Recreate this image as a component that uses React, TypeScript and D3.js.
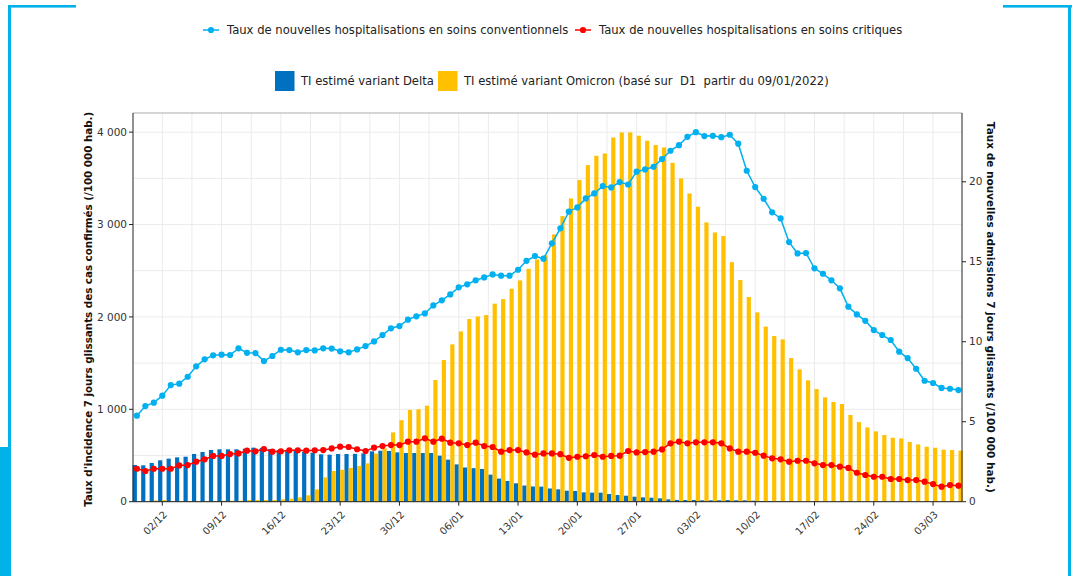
import React, { useEffect, useRef } from 'react';
import * as d3 from 'd3';

// daily series, 29/11/2021 -> 06/03/2022
const firstDay = '2021-11-29';
const lastDay = '2022-03-06';
const firstTick = '2021-12-02';

// TI estimé variant Delta (/100 000 hab.)
const deltaRate = [
  397, 394, 419, 448, 466, 480, 487, 516, 538, 560, 567, 567, 567, 574, 585, 581, 570, 560, 560, 549,
  541, 530, 513, 509, 516, 516, 518, 523, 545, 552, 549, 534, 527, 527, 527, 527, 498, 455, 404, 370,
  363, 354, 293, 250, 224, 199, 175, 165, 163, 143, 134, 119, 116, 101, 98, 98, 83, 72, 65, 54,
  47, 43, 36, 25, 18, 18, 18, 15, 15, 15, 18, 15, 15, 11, 8, 6, 5, 4, 2, 2,
  2, 2, 2, 2, 2, 2, 2, 2, 2, 2, 2, 2, 2, 2, 2, 2, 2, 2,
];

// TI estimé variant Omicron
const omicronRate = [
  2, 4, 14, 18, 8, 7, 7, 7, 8, 8, 11, 11, 11, 18, 18, 18, 18, 25, 32, 47,
  69, 133, 263, 332, 345, 366, 388, 415, 520, 577, 750, 882, 994, 1001, 1039, 1317, 1533, 1703, 1843, 1977,
  2005, 2020, 2143, 2193, 2305, 2395, 2521, 2622, 2666, 2893, 3091, 3282, 3481, 3643, 3744, 3769, 3942, 3997, 3997, 3961,
  3907, 3860, 3834, 3668, 3499, 3336, 3192, 3023, 2914, 2875, 2593, 2399, 2215, 2049, 1895, 1793, 1757, 1555, 1432, 1313,
  1219, 1129, 1079, 1057, 938, 862, 804, 761, 721, 692, 685, 646, 620, 595, 584, 563, 559, 552,
];

// nouvelles hospitalisations en soins conventionnels
const convRate = [
  5.38, 5.98, 6.19, 6.63, 7.29, 7.38, 7.81, 8.46, 8.9, 9.15, 9.19, 9.17, 9.59, 9.31, 9.29, 8.79, 9.11, 9.5, 9.48, 9.34,
  9.48, 9.46, 9.59, 9.57, 9.4, 9.34, 9.52, 9.73, 10.02, 10.42, 10.84, 10.98, 11.38, 11.59, 11.77, 12.27, 12.59, 12.96, 13.4, 13.59,
  13.84, 14.02, 14.21, 14.13, 14.13, 14.5, 15.06, 15.36, 15.19, 16.15, 17.09, 18.13, 18.4, 18.96, 19.27, 19.73, 19.65, 19.98, 19.83, 20.63,
  20.77, 20.94, 21.42, 21.94, 22.29, 22.81, 23.1, 22.86, 22.87, 22.79, 22.94, 22.38, 20.69, 19.67, 18.94, 18.09, 17.71, 16.23, 15.52, 15.54,
  14.59, 14.25, 13.84, 13.34, 12.19, 11.71, 11.31, 10.73, 10.42, 10.11, 9.38, 8.98, 8.31, 7.56, 7.42, 7.11, 7.06, 6.98,
];

// nouvelles hospitalisations en soins critiques
const critRate = [
  2.06, 1.92, 2.06, 2.06, 2.06, 2.27, 2.29, 2.5, 2.65, 2.86, 2.86, 2.98, 3.02, 3.19, 3.15, 3.29, 3.13, 3.15, 3.21, 3.21,
  3.19, 3.21, 3.23, 3.33, 3.44, 3.42, 3.28, 3.17, 3.38, 3.48, 3.54, 3.54, 3.75, 3.75, 3.96, 3.75, 3.94, 3.69, 3.65, 3.54,
  3.69, 3.48, 3.42, 3.13, 3.23, 3.23, 3.08, 2.94, 3.02, 3.02, 2.97, 2.74, 2.81, 2.84, 2.92, 2.81, 2.86, 2.88, 3.17, 3.08,
  3.1, 3.13, 3.27, 3.65, 3.75, 3.65, 3.71, 3.71, 3.71, 3.65, 3.33, 3.13, 3.13, 3.06, 2.88, 2.71, 2.65, 2.5, 2.56, 2.56,
  2.4, 2.29, 2.29, 2.19, 2.11, 1.81, 1.67, 1.56, 1.56, 1.42, 1.42, 1.35, 1.35, 1.25, 1.1, 0.94, 1.04, 1.0,
];

const lineLabels = [
  'Taux de nouvelles hospitalisations en soins conventionnels',
  'Taux de nouvelles hospitalisations en soins critiques',
];
const barLabels = [
  'TI estimé variant Delta',
  'TI estimé variant Omicron (basé sur  D1  partir du 09/01/2022)',
];
const leftTitle = "Taux d'incidence 7 jours glissants des cas confirmés (/100 000 hab.)";
const rightTitle = 'Taux de nouvelles admissions 7 jours glissants (/100 000 hab.)';
const leftTicks = [0, 1000, 2000, 3000, 4000];
const rightTicks = [0, 5, 10, 15, 20];

const FONT = 'DejaVu Sans';
const C_CONV = '#00B0F0';
const C_CRIT = '#FF0000';
const C_DELTA = '#0070C0';
const C_OMI = '#FFC000';
const C_FRAME = '#00B2E8';

const fr = d3.formatLocale({ decimal: ',', thousands: ' ', grouping: [3], currency: ['', ' €'] });

export default function App() {
  const svgRef = useRef<SVGSVGElement>(null);

  const left = 133, right = 962, top = 113, bottom = 501.7;

  useEffect(() => {
    const svg = d3.select(svgRef.current);
    svg.selectAll('*').remove();

    const start = d3.utcParse('%Y-%m-%d')(firstDay)!;
    const end = d3.utcParse('%Y-%m-%d')(lastDay)!;
    const t0 = d3.utcParse('%Y-%m-%d')(firstTick)!;
    const days = d3.utcDay.range(start, d3.utcDay.offset(end, 1));

    const x = d3
      .scaleUtc()
      .domain([d3.utcHour.offset(start, -11), d3.utcHour.offset(end, 10)])
      .range([left, right]);
    const yL = d3.scaleLinear().domain([0, 4207]).range([bottom, top]);
    const yR = d3.scaleLinear().domain([0, 24.3]).range([bottom, top]);
    const dayW = x(d3.utcDay.offset(start, 1)) - x(start);
    const bw = dayW / 2 - 0.05;

    // frame decoration
    const deco = svg.append('g').attr('fill', C_FRAME);
    deco.append('rect').attr('x', 8).attr('y', 5).attr('width', 68).attr('height', 2.6);
    deco.append('rect').attr('x', 8).attr('y', 5).attr('width', 3).attr('height', 571);
    deco.append('rect').attr('x', 0).attr('y', 447).attr('width', 11).attr('height', 129);
    deco.append('rect').attr('x', 1003).attr('y', 5).attr('width', 69).attr('height', 2.6);
    deco.append('rect').attr('x', 1068).attr('y', 5).attr('width', 3).attr('height', 571);

    // grid
    const grid = svg.append('g').attr('stroke', '#ebebeb').attr('stroke-width', 1);
    d3.range(0, 4201, 500).forEach((v) => {
      grid.append('line').attr('x1', left).attr('x2', right).attr('y1', yL(v)).attr('y2', yL(v));
    });
    const gridDates = d3.range(0, 27).map((k) => d3.utcHour.offset(t0, k * 84));
    gridDates.forEach((d) => {
      grid.append('line').attr('x1', x(d)).attr('x2', x(d)).attr('y1', top).attr('y2', bottom);
    });

    // bars
    svg
      .append('g')
      .selectAll('rect')
      .data(days)
      .join('rect')
      .attr('x', (d) => x(d) - bw)
      .attr('width', bw)
      .attr('y', (d, i) => yL(deltaRate[i]))
      .attr('height', (d, i) => bottom - yL(deltaRate[i]))
      .attr('fill', C_DELTA);
    svg
      .append('g')
      .selectAll('rect')
      .data(days)
      .join('rect')
      .attr('x', (d) => x(d))
      .attr('width', bw)
      .attr('y', (d, i) => yL(omicronRate[i]))
      .attr('height', (d, i) => bottom - yL(omicronRate[i]))
      .attr('fill', C_OMI);

    // lines
    const drawLine = (vals: number[], color: string) => {
      const g = svg.append('g');
      g.append('path')
        .datum(vals)
        .attr('fill', 'none')
        .attr('stroke', color)
        .attr('stroke-width', 1.5)
        .attr('d', d3.line<number>().x((v, i) => x(days[i])).y((v) => yR(v)));
      g.selectAll('circle')
        .data(vals)
        .join('circle')
        .attr('cx', (v, i) => x(days[i]))
        .attr('cy', (v) => yR(v))
        .attr('r', 3.1)
        .attr('fill', color);
    };
    drawLine(convRate, C_CONV);
    drawLine(critRate, C_CRIT);

    // spines
    const sp = svg.append('g');
    sp.append('line').attr('x1', left).attr('x2', right).attr('y1', top).attr('y2', top).attr('stroke', '#aaaaaa');
    sp.append('line').attr('x1', left).attr('x2', left).attr('y1', top).attr('y2', bottom).attr('stroke', '#222');
    sp.append('line').attr('x1', right).attr('x2', right).attr('y1', top).attr('y2', bottom).attr('stroke', '#222');
    sp.append('line').attr('x1', left).attr('x2', right).attr('y1', bottom).attr('y2', bottom).attr('stroke', '#222');

    // left axis
    const axL = svg.append('g').attr('font-family', FONT).attr('font-size', 10.5).attr('fill', '#333');
    leftTicks.forEach((v) => {
      axL.append('line').attr('x1', left - 4).attr('x2', left).attr('y1', yL(v)).attr('y2', yL(v)).attr('stroke', '#222');
      axL.append('text').attr('x', left - 6).attr('y', yL(v)).attr('dy', '0.35em').attr('text-anchor', 'end').text(fr.format(',')(v));
    });

    // right axis
    const axR = svg.append('g').attr('font-family', FONT).attr('font-size', 10.5).attr('fill', '#333');
    rightTicks.forEach((v) => {
      axR.append('line').attr('x1', right).attr('x2', right + 4).attr('y1', yR(v)).attr('y2', yR(v)).attr('stroke', '#222');
      axR.append('text').attr('x', right + 7).attr('y', yR(v)).attr('dy', '0.35em').text(String(v));
    });

    // date axis
    const tickDates = d3.utcDay.range(t0, d3.utcDay.offset(end, 1), 7);
    const axB = svg.append('g').attr('font-family', FONT).attr('font-size', 10).attr('fill', '#333');
    tickDates.forEach((d) => {
      axB.append('line').attr('x1', x(d)).attr('x2', x(d)).attr('y1', bottom).attr('y2', bottom + 4).attr('stroke', '#222');
      axB
        .append('text')
        .attr('transform', `translate(${x(d) + 3},${bottom + 11}) rotate(-45)`)
        .attr('dy', '0.35em')
        .attr('text-anchor', 'end')
        .text(d3.utcFormat('%d/%m')(d));
    });

    // axis titles
    svg
      .append('text')
      .attr('transform', `translate(88,${(top + bottom) / 2 + 2}) rotate(-90)`)
      .attr('text-anchor', 'middle')
      .attr('dy', '0.35em')
      .attr('font-family', FONT)
      .attr('font-weight', 'bold')
      .attr('font-size', 10.3)
      .attr('fill', '#111')
      .text(leftTitle);
    svg
      .append('text')
      .attr('transform', `translate(991,${(top + bottom) / 2}) rotate(90)`)
      .attr('text-anchor', 'middle')
      .attr('dy', '0.35em')
      .attr('font-family', FONT)
      .attr('font-weight', 'bold')
      .attr('font-size', 10.5)
      .attr('fill', '#111')
      .text(rightTitle);

    // legend, line series
    const lg = svg.append('g').attr('font-family', FONT).attr('font-size', 11.6).attr('fill', '#222');
    [
      { label: lineLabels[0], color: C_CONV, mx: 211 },
      { label: lineLabels[1], color: C_CRIT, mx: 583 },
    ].forEach((it) => {
      lg.append('line').attr('x1', it.mx - 8).attr('x2', it.mx + 8).attr('y1', 30).attr('y2', 30).attr('stroke', it.color).attr('stroke-width', 1.5);
      lg.append('circle').attr('cx', it.mx).attr('cy', 30).attr('r', 3.1).attr('fill', it.color);
      lg.append('text').attr('x', it.mx + 16).attr('y', 30).attr('dy', '0.35em').text(it.label);
    });

    // legend, bar series
    [
      { label: barLabels[0], color: C_DELTA, bx: 275 },
      { label: barLabels[1], color: C_OMI, bx: 438 },
    ].forEach((it) => {
      lg.append('rect').attr('x', it.bx).attr('y', 71).attr('width', 19.5).attr('height', 20).attr('fill', it.color);
      lg.append('text')
        .attr('x', it.bx + 26)
        .attr('y', 81)
        .attr('dy', '0.35em')
        .style('white-space', 'pre')
        .text(it.label);
    });
  }, []);

  return (
    <svg
      ref={svgRef}
      width={1077}
      height={576}
      style={{ position: 'absolute', left: 0, top: 0, background: '#fff', display: 'block' }}
    />
  );
}
